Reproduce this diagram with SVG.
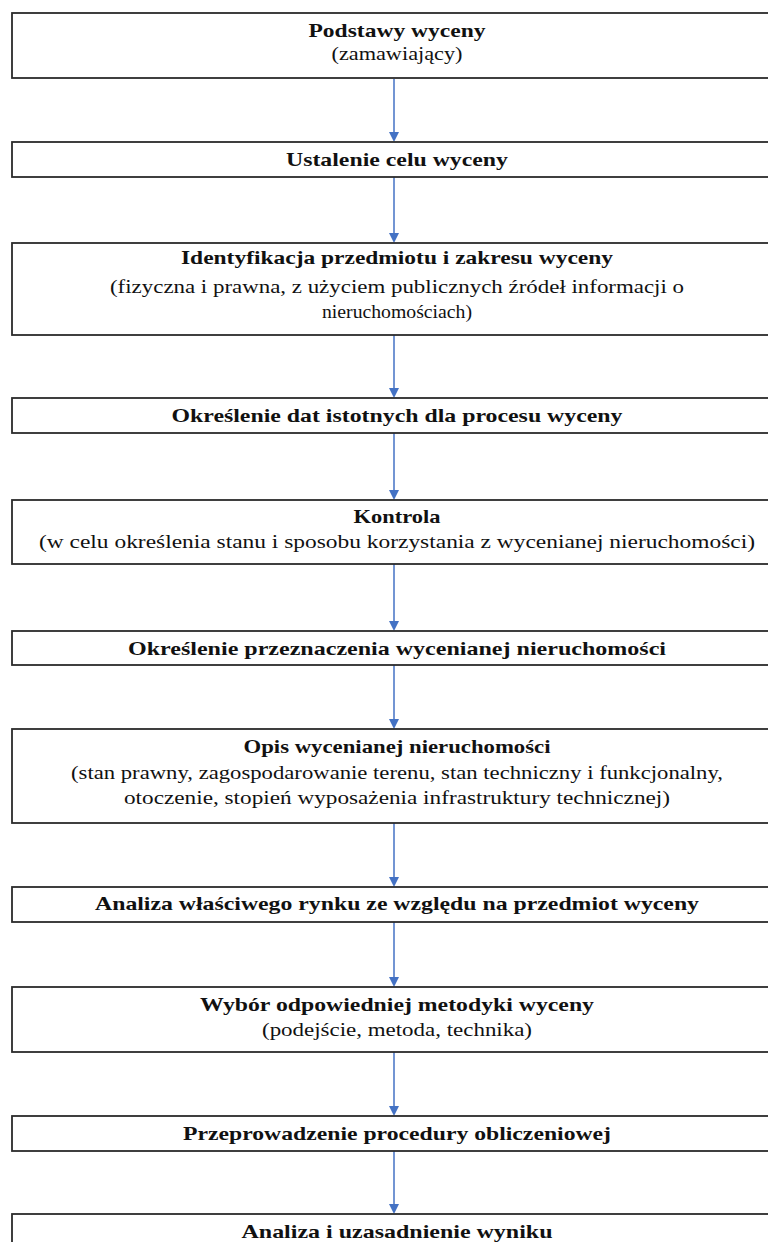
<svg xmlns="http://www.w3.org/2000/svg" width="768" height="1242" viewBox="0 0 768 1242">
<style>
.box{fill:#fff;stroke:#2b2b2b;stroke-width:1.8}
.t{font-family:"Liberation Serif","Times New Roman",serif;font-size:19px;fill:#111;text-anchor:middle}
.b{font-weight:bold}
.c{stroke:#4472C4;stroke-width:1.5;fill:none}
.h{fill:#4472C4}
</style>
<rect width="768" height="1242" fill="#fff"/>
<g id="connectors">
<line class="c" x1="394" y1="79" x2="394" y2="132"/><path class="h" d="M389,132 L399,132 L394,142 Z"/>
<line class="c" x1="394" y1="177" x2="394" y2="233"/><path class="h" d="M389,233 L399,233 L394,243 Z"/>
<line class="c" x1="394" y1="335" x2="394" y2="388"/><path class="h" d="M389,388 L399,388 L394,398 Z"/>
<line class="c" x1="394" y1="433" x2="394" y2="490"/><path class="h" d="M389,490 L399,490 L394,500 Z"/>
<line class="c" x1="394" y1="564" x2="394" y2="621"/><path class="h" d="M389,621 L399,621 L394,631 Z"/>
<line class="c" x1="394" y1="665" x2="394" y2="719"/><path class="h" d="M389,719 L399,719 L394,729 Z"/>
<line class="c" x1="394" y1="823" x2="394" y2="877"/><path class="h" d="M389,877 L399,877 L394,887 Z"/>
<line class="c" x1="394" y1="922" x2="394" y2="977"/><path class="h" d="M389,977 L399,977 L394,987 Z"/>
<line class="c" x1="394" y1="1052" x2="394" y2="1106"/><path class="h" d="M389,1106 L399,1106 L394,1116 Z"/>
<line class="c" x1="394" y1="1151" x2="394" y2="1204"/><path class="h" d="M389,1204 L399,1204 L394,1214 Z"/>
</g>
<g id="n1"><rect class="box" x="12" y="13" width="790" height="65"/>
<text class="t b" x="397" y="37" textLength="177" lengthAdjust="spacingAndGlyphs">Podstawy wyceny</text>
<text class="t" x="397" y="60" textLength="131" lengthAdjust="spacingAndGlyphs">(zamawiający)</text></g>
<g id="n2"><rect class="box" x="12" y="142" width="790" height="35"/>
<text class="t b" x="397" y="166" textLength="222" lengthAdjust="spacingAndGlyphs">Ustalenie celu wyceny</text></g>
<g id="n3"><rect class="box" x="12" y="243" width="790" height="92"/>
<text class="t b" x="397" y="264" textLength="432" lengthAdjust="spacingAndGlyphs">Identyfikacja przedmiotu i zakresu wyceny</text>
<text class="t" x="397" y="293" textLength="574" lengthAdjust="spacingAndGlyphs">(fizyczna i prawna, z użyciem publicznych źródeł informacji o</text>
<text class="t" x="397" y="318" textLength="150" lengthAdjust="spacingAndGlyphs">nieruchomościach)</text></g>
<g id="n4"><rect class="box" x="12" y="398" width="790" height="35"/>
<text class="t b" x="397" y="422" textLength="451" lengthAdjust="spacingAndGlyphs">Określenie dat istotnych dla procesu wyceny</text></g>
<g id="n5"><rect class="box" x="12" y="500" width="790" height="64"/>
<text class="t b" x="397" y="523" textLength="87" lengthAdjust="spacingAndGlyphs">Kontrola</text>
<text class="t" x="397" y="548" textLength="716" lengthAdjust="spacingAndGlyphs">(w celu określenia stanu i sposobu korzystania z wycenianej nieruchomości)</text></g>
<g id="n6"><rect class="box" x="12" y="631" width="790" height="34"/>
<text class="t b" x="397" y="655" textLength="538" lengthAdjust="spacingAndGlyphs">Określenie przeznaczenia wycenianej nieruchomości</text></g>
<g id="n7"><rect class="box" x="12" y="729" width="790" height="94"/>
<text class="t b" x="397" y="753" textLength="307" lengthAdjust="spacingAndGlyphs">Opis wycenianej nieruchomości</text>
<text class="t" x="397" y="779" textLength="652" lengthAdjust="spacingAndGlyphs">(stan prawny, zagospodarowanie terenu, stan techniczny i funkcjonalny,</text>
<text class="t" x="397" y="804" textLength="546" lengthAdjust="spacingAndGlyphs">otoczenie, stopień wyposażenia infrastruktury technicznej)</text></g>
<g id="n8"><rect class="box" x="12" y="887" width="790" height="35"/>
<text class="t b" x="397" y="910" textLength="604" lengthAdjust="spacingAndGlyphs">Analiza właściwego rynku ze względu na przedmiot wyceny</text></g>
<g id="n9"><rect class="box" x="12" y="987" width="790" height="65"/>
<text class="t b" x="397" y="1011" textLength="394" lengthAdjust="spacingAndGlyphs">Wybór odpowiedniej metodyki wyceny</text>
<text class="t" x="397" y="1036" textLength="270" lengthAdjust="spacingAndGlyphs">(podejście, metoda, technika)</text></g>
<g id="n10"><rect class="box" x="12" y="1116" width="790" height="35"/>
<text class="t b" x="397" y="1140" textLength="428" lengthAdjust="spacingAndGlyphs">Przeprowadzenie procedury obliczeniowej</text></g>
<g id="n11"><rect class="box" x="12" y="1214" width="790" height="60"/>
<text class="t b" x="397" y="1238" textLength="311" lengthAdjust="spacingAndGlyphs">Analiza i uzasadnienie wyniku</text></g>
</svg>
